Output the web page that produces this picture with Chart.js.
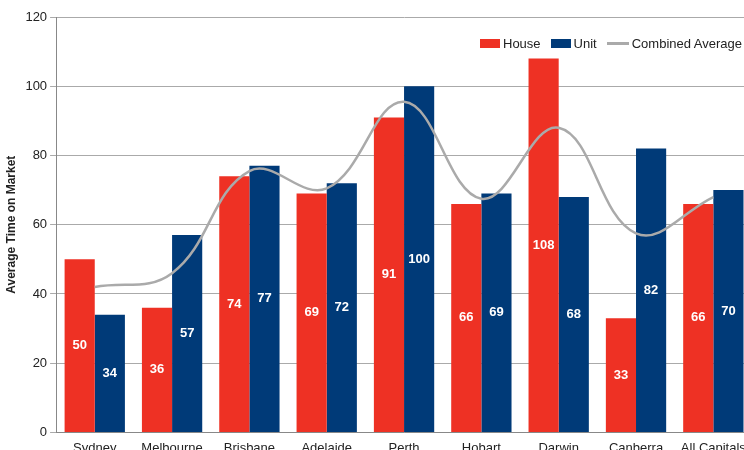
<!DOCTYPE html>
<html><head><meta charset="utf-8">
<script src="https://cdn.jsdelivr.net/npm/chart.js@4.4.0/dist/chart.umd.min.js"></script>
<style>
html,body{margin:0;padding:0;background:#fff;overflow:hidden;width:744px;height:450px}
#wrap{position:relative;width:752px;height:456px}
#legend{position:absolute;top:36px;left:480px;font:13px "Liberation Sans",Arial,sans-serif;color:#222;display:flex;align-items:center;white-space:nowrap}
#legend span.sw{display:inline-block;width:20px;height:9px;margin-right:3px}
#legend span.ln{display:inline-block;width:22px;height:3px;background:#aaa;margin-right:3px}
#legend .it{display:flex;align-items:center;margin-right:10px}
</style></head><body>
<div id="wrap"><canvas id="c" width="752" height="456"></canvas>
<div id="legend"><div class="it"><span class="sw" style="background:#ee3124"></span>House</div><div class="it"><span class="sw" style="background:#003a78"></span>Unit</div><div class="it"><span class="ln"></span>Combined Average</div></div></div>
<script>
const categories=["Sydney","Melbourne","Brisbane","Adelaide","Perth","Hobart","Darwin","Canberra","All Capitals"];
const house=[50,36,74,69,91,66,108,33,66];
const unit=[34,57,77,72,100,69,68,82,70];
const combined=[42,46,75.5,70.5,95.5,67.5,88,57.5,68];
const yTicks=[0,20,40,60,80,100,120];
const labelPlugin={id:'lbl',afterDatasetsDraw(ch){const c=ch.ctx;c.save();c.fillStyle='#fff';c.font='bold 13px "Liberation Sans",Arial';c.textAlign='center';c.textBaseline='middle';
[1,2].forEach(di=>{ch.getDatasetMeta(di).data.forEach((b,i)=>{c.fillText(ch.data.datasets[di].data[i],b.x,(b.y+b.base)/2);});});c.restore();}};
new Chart(document.getElementById('c'),{
data:{labels:categories,datasets:[
{type:'line',label:'Combined Average',data:combined,borderColor:'#aaaaaa',borderWidth:2.5,pointRadius:0,tension:0.4,order:0},
{type:'bar',label:'House',data:house,backgroundColor:'#ee3124',order:1},
{type:'bar',label:'Unit',data:unit,backgroundColor:'#003a78',order:1}]},
options:{responsive:false,animation:false,
datasets:{bar:{categoryPercentage:0.78,barPercentage:1}},
layout:{padding:{top:17,right:0,left:0,bottom:0}},
plugins:{legend:{display:false},tooltip:{enabled:false}},
scales:{x:{grid:{display:false},border:{color:'#888'},ticks:{color:'#222',font:{family:'"Liberation Sans",Arial',size:13},padding:0}},
y:{min:0,max:120,afterBuildTicks:a=>{a.ticks=yTicks.map(v=>({value:v}));},grid:{color:'#aaa',tickLength:6},border:{color:'#888'},ticks:{color:'#222',font:{family:'"Liberation Sans",Arial',size:13}},
title:{display:true,text:'Average Time on Market',color:'#222',font:{family:'"Liberation Sans",Arial',size:12,weight:'bold'}}}}}
,plugins:[labelPlugin]});
</script></body></html>
